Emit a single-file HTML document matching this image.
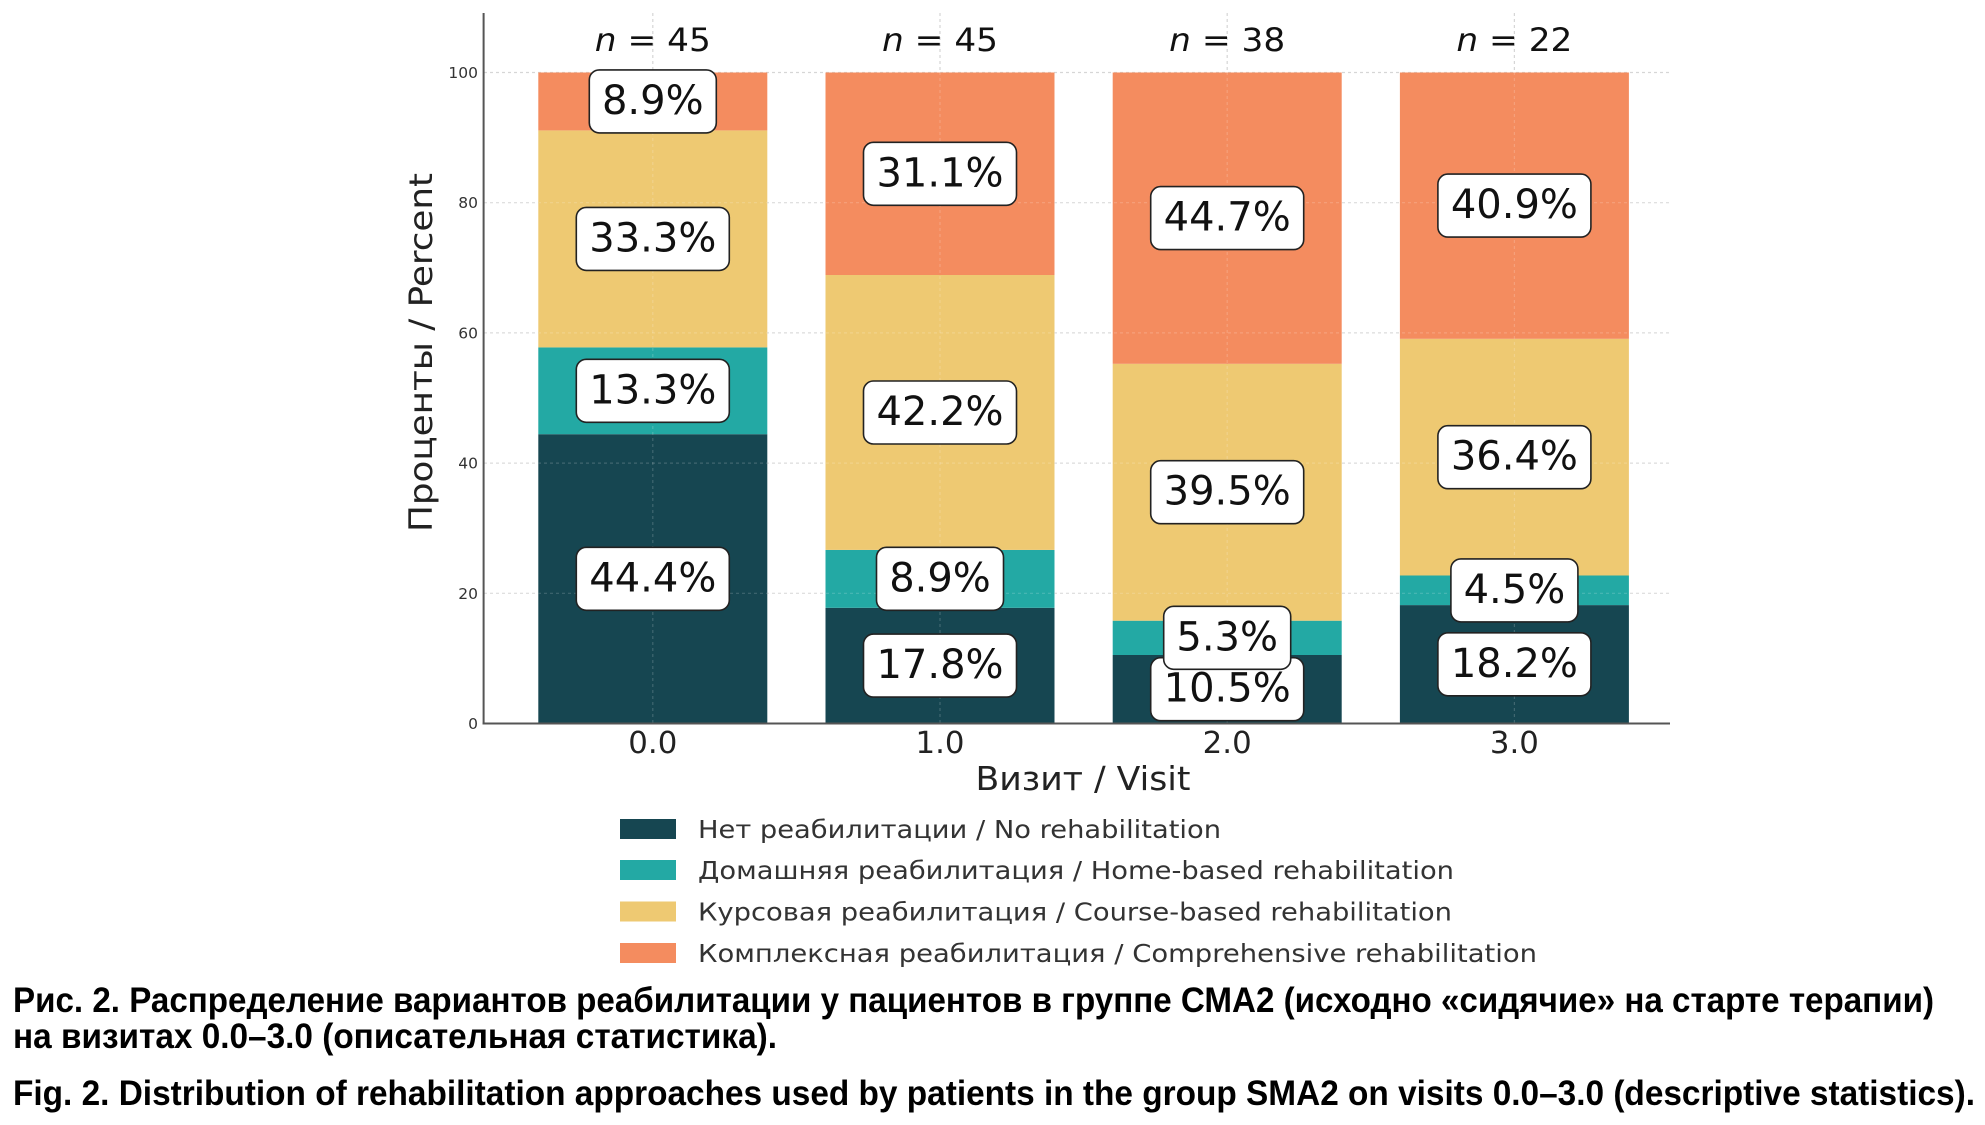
<!DOCTYPE html>
<html><head><meta charset="utf-8"><style>
html,body{margin:0;padding:0;background:#fff;}
svg{display:block;}
.dj{font-family:"DejaVu Sans","Liberation Sans",sans-serif;}
.cap{font-family:"Liberation Sans","DejaVu Sans",sans-serif;font-weight:bold;}
</style></head><body>
<svg width="1985" height="1125" viewBox="0 0 1985 1125" xmlns="http://www.w3.org/2000/svg">
<rect width="1985" height="1125" fill="#fff"/>
<!-- grid under -->
<g stroke="#d6d6d6" stroke-width="1.2" stroke-dasharray="3,3">
<line x1="484" y1="72.5" x2="1670" y2="72.5"/>
<line x1="484" y1="202.7" x2="1670" y2="202.7"/>
<line x1="484" y1="332.9" x2="1670" y2="332.9"/>
<line x1="484" y1="463.1" x2="1670" y2="463.1"/>
<line x1="484" y1="593.3" x2="1670" y2="593.3"/>
<line x1="652.8" y1="13" x2="652.8" y2="723.5"/>
<line x1="940" y1="13" x2="940" y2="723.5"/>
<line x1="1227.2" y1="13" x2="1227.2" y2="723.5"/>
<line x1="1514.4" y1="13" x2="1514.4" y2="723.5"/>
</g>
<!-- bars -->
<g>
<rect x="538.3" y="434.2" width="229" height="289.3" fill="#164651"/>
<rect x="538.3" y="347.4" width="229" height="86.8" fill="#23a9a4"/>
<rect x="538.3" y="130.4" width="229" height="217" fill="#eec972"/>
<rect x="538.3" y="72.5" width="229" height="57.9" fill="#f48c5f"/>

<rect x="825.5" y="607.8" width="229" height="115.7" fill="#164651"/>
<rect x="825.5" y="549.9" width="229" height="57.9" fill="#23a9a4"/>
<rect x="825.5" y="275.0" width="229" height="274.9" fill="#eec972"/>
<rect x="825.5" y="72.5" width="229" height="202.5" fill="#f48c5f"/>

<rect x="1112.7" y="655.0" width="229" height="68.5" fill="#164651"/>
<rect x="1112.7" y="620.7" width="229" height="34.3" fill="#23a9a4"/>
<rect x="1112.7" y="363.8" width="229" height="256.9" fill="#eec972"/>
<rect x="1112.7" y="72.5" width="229" height="291.3" fill="#f48c5f"/>

<rect x="1399.9" y="605.1" width="229" height="118.4" fill="#164651"/>
<rect x="1399.9" y="575.5" width="229" height="29.6" fill="#23a9a4"/>
<rect x="1399.9" y="338.8" width="229" height="236.7" fill="#eec972"/>
<rect x="1399.9" y="72.5" width="229" height="266.3" fill="#f48c5f"/>
</g>
<!-- faint grid over bars -->
<g stroke="#ffffff" stroke-opacity="0.18" stroke-width="1.2" stroke-dasharray="3,3">
<line x1="484" y1="202.7" x2="1670" y2="202.7"/>
<line x1="484" y1="332.9" x2="1670" y2="332.9"/>
<line x1="484" y1="463.1" x2="1670" y2="463.1"/>
<line x1="484" y1="593.3" x2="1670" y2="593.3"/>
<line x1="652.8" y1="72" x2="652.8" y2="723.5"/>
<line x1="940" y1="72" x2="940" y2="723.5"/>
<line x1="1227.2" y1="72" x2="1227.2" y2="723.5"/>
<line x1="1514.4" y1="72" x2="1514.4" y2="723.5"/>
</g>
<!-- spines -->
<line x1="483.6" y1="13" x2="483.6" y2="724.5" stroke="#555" stroke-width="2"/>
<line x1="482.6" y1="723.5" x2="1670" y2="723.5" stroke="#555" stroke-width="2"/>
<!-- y ticks -->
<g class="dj" font-size="15.5" fill="#333" text-anchor="end">
<text x="478" y="729">0</text>
<text x="478" y="598.8">20</text>
<text x="478" y="468.6">40</text>
<text x="478" y="338.4">60</text>
<text x="478" y="208.2">80</text>
<text x="478" y="78">100</text>
</g>
<!-- value labels -->
<g class="dj" font-size="40" fill="#111" text-anchor="middle">
<rect x="576.3" y="547.3" width="153" height="63" rx="10" fill="#fff" stroke="#222" stroke-width="1.6"/>
<text x="652.8" y="591.3">44.4%</text>
<rect x="576.3" y="359.3" width="153" height="63" rx="10" fill="#fff" stroke="#222" stroke-width="1.6"/>
<text x="652.8" y="403.3">13.3%</text>
<rect x="576.3" y="207.4" width="153" height="63" rx="10" fill="#fff" stroke="#222" stroke-width="1.6"/>
<text x="652.8" y="251.4">33.3%</text>
<rect x="589.3" y="69.9" width="127" height="63" rx="10" fill="#fff" stroke="#222" stroke-width="1.6"/>
<text x="652.8" y="113.9">8.9%</text>

<rect x="863.5" y="634.1" width="153" height="63" rx="10" fill="#fff" stroke="#222" stroke-width="1.6"/>
<text x="940" y="678.1">17.8%</text>
<rect x="876.5" y="547.3" width="127" height="63" rx="10" fill="#fff" stroke="#222" stroke-width="1.6"/>
<text x="940" y="591.3">8.9%</text>
<rect x="863.5" y="381" width="153" height="63" rx="10" fill="#fff" stroke="#222" stroke-width="1.6"/>
<text x="940" y="425">42.2%</text>
<rect x="863.5" y="142.3" width="153" height="63" rx="10" fill="#fff" stroke="#222" stroke-width="1.6"/>
<text x="940" y="186.3">31.1%</text>

<rect x="1150.7" y="657.7" width="153" height="63" rx="10" fill="#fff" stroke="#222" stroke-width="1.6"/>
<text x="1227.2" y="701.7">10.5%</text>
<rect x="1163.7" y="606.3" width="127" height="63" rx="10" fill="#fff" stroke="#222" stroke-width="1.6"/>
<text x="1227.2" y="650.3">5.3%</text>
<rect x="1150.7" y="460.7" width="153" height="63" rx="10" fill="#fff" stroke="#222" stroke-width="1.6"/>
<text x="1227.2" y="504.7">39.5%</text>
<rect x="1150.7" y="186.6" width="153" height="63" rx="10" fill="#fff" stroke="#222" stroke-width="1.6"/>
<text x="1227.2" y="230.6">44.7%</text>

<rect x="1437.9" y="632.8" width="153" height="63" rx="10" fill="#fff" stroke="#222" stroke-width="1.6"/>
<text x="1514.4" y="676.8">18.2%</text>
<rect x="1450.9" y="558.9" width="127" height="63" rx="10" fill="#fff" stroke="#222" stroke-width="1.6"/>
<text x="1514.4" y="602.9">4.5%</text>
<rect x="1437.9" y="425.7" width="153" height="63" rx="10" fill="#fff" stroke="#222" stroke-width="1.6"/>
<text x="1514.4" y="469.7">36.4%</text>
<rect x="1437.9" y="174.1" width="153" height="63" rx="10" fill="#fff" stroke="#222" stroke-width="1.6"/>
<text x="1514.4" y="218.1">40.9%</text>
</g>
<!-- n labels -->
<g class="dj" font-size="32" fill="#111" text-anchor="middle">
<text x="652.8" y="51" textLength="116" lengthAdjust="spacingAndGlyphs"><tspan font-style="italic">n</tspan> = 45</text>
<text x="940" y="51" textLength="116" lengthAdjust="spacingAndGlyphs"><tspan font-style="italic">n</tspan> = 45</text>
<text x="1227.2" y="51" textLength="116" lengthAdjust="spacingAndGlyphs"><tspan font-style="italic">n</tspan> = 38</text>
<text x="1514.4" y="51" textLength="116" lengthAdjust="spacingAndGlyphs"><tspan font-style="italic">n</tspan> = 22</text>
</g>
<!-- x ticks -->
<g class="dj" font-size="30" fill="#222" text-anchor="middle">
<text x="652.8" y="753" textLength="49" lengthAdjust="spacingAndGlyphs">0.0</text>
<text x="940" y="753" textLength="49" lengthAdjust="spacingAndGlyphs">1.0</text>
<text x="1227.2" y="753" textLength="49" lengthAdjust="spacingAndGlyphs">2.0</text>
<text x="1514.4" y="753" textLength="49" lengthAdjust="spacingAndGlyphs">3.0</text>
</g>
<!-- axis labels -->
<text class="dj" x="1083" y="790" font-size="33" fill="#222" text-anchor="middle" textLength="215" lengthAdjust="spacingAndGlyphs">Визит / Visit</text>
<text class="dj" transform="translate(432,352.5) rotate(-90)" x="0" y="0" font-size="32" fill="#222" text-anchor="middle" textLength="359" lengthAdjust="spacingAndGlyphs">Проценты / Percent</text>
<!-- legend -->
<rect x="620" y="819" width="56" height="20" fill="#164651"/>
<rect x="620" y="860" width="56" height="20" fill="#23a9a4"/>
<rect x="620" y="901.5" width="56" height="20" fill="#eec972"/>
<rect x="620" y="943" width="56" height="20" fill="#f48c5f"/>
<g class="dj" font-size="25" fill="#333">
<text x="698" y="838" textLength="523" lengthAdjust="spacingAndGlyphs">Нет реабилитации / No rehabilitation</text>
<text x="698" y="879" textLength="756" lengthAdjust="spacingAndGlyphs">Домашняя реабилитация / Home-based rehabilitation</text>
<text x="698" y="920.5" textLength="754" lengthAdjust="spacingAndGlyphs">Курсовая реабилитация / Course-based rehabilitation</text>
<text x="698" y="962" textLength="839" lengthAdjust="spacingAndGlyphs">Комплексная реабилитация / Comprehensive rehabilitation</text>
</g>
<!-- caption -->
<g class="cap" font-size="35" fill="#000">
<text x="13" y="1012" textLength="1921" lengthAdjust="spacingAndGlyphs">Рис. 2. Распределение вариантов реабилитации у пациентов в группе СМА2 (исходно «сидячие» на старте терапии)</text>
<text x="13" y="1048" textLength="764" lengthAdjust="spacingAndGlyphs">на визитах 0.0–3.0 (описательная статистика).</text>
<text x="13" y="1105" textLength="1962" lengthAdjust="spacingAndGlyphs">Fig. 2. Distribution of rehabilitation approaches used by patients in the group SMA2 on visits 0.0–3.0 (descriptive statistics).</text>
</g>
</svg>
</body></html>
